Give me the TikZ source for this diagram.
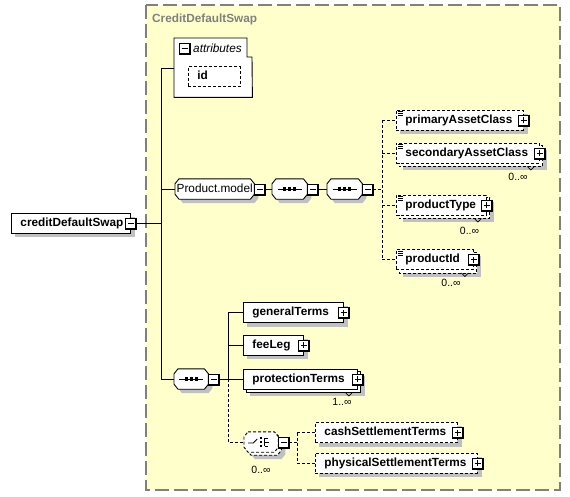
\documentclass[tikz,border=0pt]{standalone}
\usepackage{fontspec}
\setmainfont{Liberation Sans}
\definecolor{bgy}{RGB}{255,255,204}
\definecolor{shd}{RGB}{192,192,192}
\definecolor{ttl}{RGB}{128,128,128}
\newcommand\fs{\fontsize{11.8}{13}\selectfont}
\newcommand\fo{\fontsize{10.5}{12}\selectfont}
\pgfdeclarelayer{lzero}
\pgfdeclarelayer{lone}
\pgfdeclarelayer{ltwo}
\pgfsetlayers{lzero,lone,ltwo,main}
\tikzset{
  conn/.style={line width=0.9pt},
  dsh/.style={dash pattern=on 3pt off 2pt},
  dconn/.style={conn, dsh},
  elbase/.style={draw, fill=white, line width=0.9pt, font=\fs\bfseries, inner xsep=9pt, inner ysep=0pt,
                 minimum height=20pt, anchor=west, align=left, text height=8.5pt, text depth=2.5pt},
  el/.style={elbase},
  opt/.style={elbase, dsh},
  occ/.style={font=\fo, inner sep=0pt},
  exbase/.style={draw, fill=white, line width=0.9pt, minimum width=10pt, minimum height=10pt, inner sep=0pt},
  exm/.style={exbase, path picture={\draw[line width=0.9pt]
      ([xshift=-3pt]path picture bounding box.center) -- ([xshift=3pt]path picture bounding box.center);}},
  exp/.style={exbase, path picture={\draw[line width=0.9pt]
      ([xshift=-3pt]path picture bounding box.center) -- ([xshift=3pt]path picture bounding box.center)
      ([yshift=-3pt]path picture bounding box.center) -- ([yshift=3pt]path picture bounding box.center);}},
  octn/.style={rectangle, draw=none, minimum height=20pt, inner sep=0pt, anchor=west, font=\fs,
               text height=8.5pt, text depth=2.5pt},
}
% octagon outline of a node, shifted by #2
\newcommand\octp[2]{([shift={(#2+4,#2)}]#1.north west) -- ([shift={(#2-4,#2)}]#1.north east)
  -- ([shift={(#2,#2+5)}]#1.north east) -- ([shift={(#2,#2-5)}]#1.south east)
  -- ([shift={(#2-4,#2)}]#1.south east) -- ([shift={(#2+4,#2)}]#1.south west)
  -- ([shift={(#2,#2-5)}]#1.south west) -- ([shift={(#2,#2+5)}]#1.north west) -- cycle}
% rectangle shadow
\newcommand\rsh[2][4]{\begin{pgfonlayer}{lone}\fill[shd] ([shift={(#1,#1)}]#2.north west) rectangle ([shift={(#1,#1)}]#2.south east);\end{pgfonlayer}}
% copy of a rectangle node behind it
\newcommand\rcp[2][]{\begin{pgfonlayer}{ltwo}\draw[conn, fill=white, #1] ([shift={(3,3)}]#2.north west) rectangle ([shift={(3,3)}]#2.south east);\end{pgfonlayer}}
% little V notch
\newcommand\vn[1]{\draw[line width=0.7pt] ([shift={(-12.5,3)}]#1.south east) -- ([shift={(-9,6.5)}]#1.south east) -- ([shift={(-5.5,3)}]#1.south east);}
% thick right/bottom edge of an expander box
\newcommand\exsh[1]{\draw[line width=1.1pt] ([xshift=0.5pt]#1.north east) -- ([xshift=0.5pt,yshift=-0.5pt]#1.south east) -- ([yshift=-0.5pt]#1.south west);}
% three-line mark of simple-content elements
\newcommand\mk[1]{\foreach \k in {0,2,4} \draw[line width=0.6pt] ([shift={(2,2+\k)}]#1.north west) -- ++(5,0);}
\newcommand\seqicon[1]{\draw[conn] ([xshift=-12pt]#1.center) -- ([xshift=12pt]#1.center);
  \foreach \dx in {-5,0,5} \fill ([xshift=\dx*1pt]#1.center) +(-1.7,-1.7) rectangle +(1.7,1.7);}
\begin{document}
\begin{tikzpicture}[x=1pt,y=-1pt]
\useasboundingbox (0,0) rectangle (570,496);
% group box
\begin{pgfonlayer}{lzero}
\draw[draw=ttl, fill=bgy, line width=1.3pt, dash pattern=on 14pt off 5pt] (146,5) rectangle (560,490);
\end{pgfonlayer}
\node[anchor=west, text=ttl, font=\fs\bfseries, inner sep=0pt] (title) at (152,19) {CreditDefaultSwap};

% root
\node[el, text width=101pt] (root) at (11,223) {\mbox{creditDefaultSwap}};
\rsh{root}
\node[exm] (root-e) at (root.east) {}; \exsh{root-e}

% trunk
\coordinate (tA) at (161,68);
\coordinate (tB) at (161,379);
\draw[conn] (tA) -- (tB);
\draw[conn] (root-e.east) -- (root-e.east -| tA);

% attributes
\node[anchor=north west, minimum width=78pt, minimum height=59pt, inner sep=0pt] (attr) at (174,38) {};
\begin{pgfonlayer}{ltwo}
\draw[conn, fill=white] (attr.north west) -- ++(73,0) -- ++(0,19) -- ++(5,0) -- (attr.south east) -- (attr.south west) -- cycle;
\end{pgfonlayer}
\node[exm] (attr-e) at (184.5,48.5) {}; \exsh{attr-e}
\node[anchor=west, font=\fs\itshape, inner sep=0pt] (attrlbl) at (193,48.5) {attributes};
\node[opt, text width=34pt] (id) at (188,76.5) {id};
\rsh{id}
\draw[conn] (tA) -- (tA -| attr.west);

% Product.model group and its sequences
\node[octn, minimum width=79pt] (pm) at (175,189) {Product.model};
\node[octn, minimum width=35pt] (s1) at (272,189) {};
\node[octn, minimum width=35pt] (s2) at (327,189) {};
\foreach \n in {pm,s1,s2} {
  \begin{pgfonlayer}{lone}\fill[shd] \octp{\n}{4};\end{pgfonlayer}
  \begin{pgfonlayer}{ltwo}\draw[conn, fill=white] \octp{\n}{0};\end{pgfonlayer}
}
\seqicon{s1}
\seqicon{s2}
\node[exm, anchor=west] (pm-e) at (pm.east) {}; \exsh{pm-e}
\node[exm, anchor=west] (s1-e) at (s1.east) {}; \exsh{s1-e}
\node[exm, anchor=west] (s2-e) at (s2.east) {}; \exsh{s2-e}
\draw[conn] (tA |- pm.west) -- (pm.west);
\draw[conn] (pm-e.east) -- (s1.west);
\draw[conn] (s1-e.east) -- (s2.west);
\coordinate (cT) at (382,120);
\coordinate (cB) at (382,259.5);
\draw[dconn] (s2-e.east) -- (s2-e.east -| cT);
\draw[dconn] (cT) -- (cB);

\node[opt, text width=109pt] (pac) at (396,120) {\mbox{primaryAssetClass}};
\rsh{pac} \mk{pac}
\node[exp] (pac-e) at (pac.east) {}; \exsh{pac-e}
\node[opt, text width=125pt] (sac) at (396,153) {\mbox{secondaryAssetClass}};
\rsh[7]{sac} \rcp[dsh]{sac} \mk{sac} \vn{sac}
\node[exp] (sac-e) at (sac.east) {}; \exsh{sac-e}
\node[opt, text width=72pt] (pt) at (396,205) {\mbox{productType}};
\rsh[7]{pt} \rcp[dsh]{pt} \mk{pt} \vn{pt}
\node[exp] (pt-e) at (pt.east) {}; \exsh{pt-e}
\node[opt, text width=59pt] (pid) at (396,259.5) {\mbox{productId}};
\rsh[7]{pid} \rcp[dsh]{pid} \mk{pid} \vn{pid}
\node[exp] (pid-e) at (pid.east) {}; \exsh{pid-e}
\foreach \n in {pac,sac,pt,pid} \draw[dconn] (cT |- \n.west) -- (\n.west);
\node[occ] (sac-o) at (518,176.5) {0..∞};
\node[occ] (pt-o) at (469.5,231) {0..∞};
\node[occ] (pid-o) at (451,283) {0..∞};

% bottom sequence
\node[octn, minimum width=34pt] (s3) at (174,379) {};
\begin{pgfonlayer}{lone}\fill[shd] \octp{s3}{4};\end{pgfonlayer}
\begin{pgfonlayer}{ltwo}\draw[conn, fill=white] \octp{s3}{0};\end{pgfonlayer}
\seqicon{s3}
\node[exm, anchor=west] (s3-e) at (s3.east) {}; \exsh{s3-e}
\draw[conn] (tB) -- (s3.west);
\coordinate (uT) at (228,312.5);
\coordinate (uM) at (228,379);
\coordinate (uB) at (228,442);
\draw[conn] (s3-e.east) -- (uM);
\draw[conn] (uT) -- (uM);

\node[el, text width=82pt] (gt) at (243,312.5) {\mbox{generalTerms}};
\rsh{gt}
\node[exp] (gt-e) at (gt.east) {}; \exsh{gt-e}
\node[el, text width=42pt] (fl) at (243,345) {\mbox{feeLeg}};
\rsh{fl}
\node[exp] (fl-e) at (fl.east) {}; \exsh{fl-e}
\node[el, text width=96pt] (pr) at (243,379) {\mbox{protectionTerms}};
\rsh[7]{pr} \rcp{pr} \vn{pr}
\node[exp] (pr-e) at (pr.east) {}; \exsh{pr-e}
\node[occ] (pr-o) at (342,402) {1..∞};
\foreach \n in {gt,fl,pr} \draw[conn] (uT |- \n.west) -- (\n.west);

% choice
\node[octn, minimum width=34pt] (ch) at (244,442) {};
\begin{pgfonlayer}{lone}\fill[shd] \octp{ch}{7};\end{pgfonlayer}
\begin{pgfonlayer}{ltwo}\draw[dconn, fill=white] \octp{ch}{3}; \draw[dconn, fill=white] \octp{ch}{0};\end{pgfonlayer}
\begin{scope}[shift={(ch.center)}, line width=0.9pt]
  \draw (-13,1) -- (-8,1) -- (-4,-3);
  \foreach \dy in {-4,0,4} \fill (0,\dy) +(-1.2,-1.2) rectangle +(1.2,1.2);
  \draw (3.5,-4) -- (3.5,4) (3.5,-4) -- (7,-4) (3.5,4) -- (7,4) (3.5,0) -- (8,0);
\end{scope}
\node[exm, anchor=west] (ch-e) at (ch.east) {}; \exsh{ch-e}
\node[occ] (ch-o) at (261,470) {0..∞};
\draw[dconn] (uM) -- (uB) -- (ch.west);
\coordinate (vT) at (297,432.5);
\coordinate (vB) at (297,463);
\draw[dconn] (vT) -- (vB);
\draw[dconn] (ch-e.east) -- (ch-e.east -| vT);
\node[opt, text width=124pt] (cst) at (315,432.5) {\mbox{cashSettlementTerms}};
\rsh{cst}
\node[exp] (cst-e) at (cst.east) {}; \exsh{cst-e}
\node[opt, text width=144pt] (pst) at (315,463) {\mbox{physicalSettlementTerms}};
\rsh{pst}
\node[exp] (pst-e) at (pst.east) {}; \exsh{pst-e}
\foreach \n in {cst,pst} \draw[dconn] (vT |- \n.west) -- (\n.west);
\end{tikzpicture}
\end{document}
